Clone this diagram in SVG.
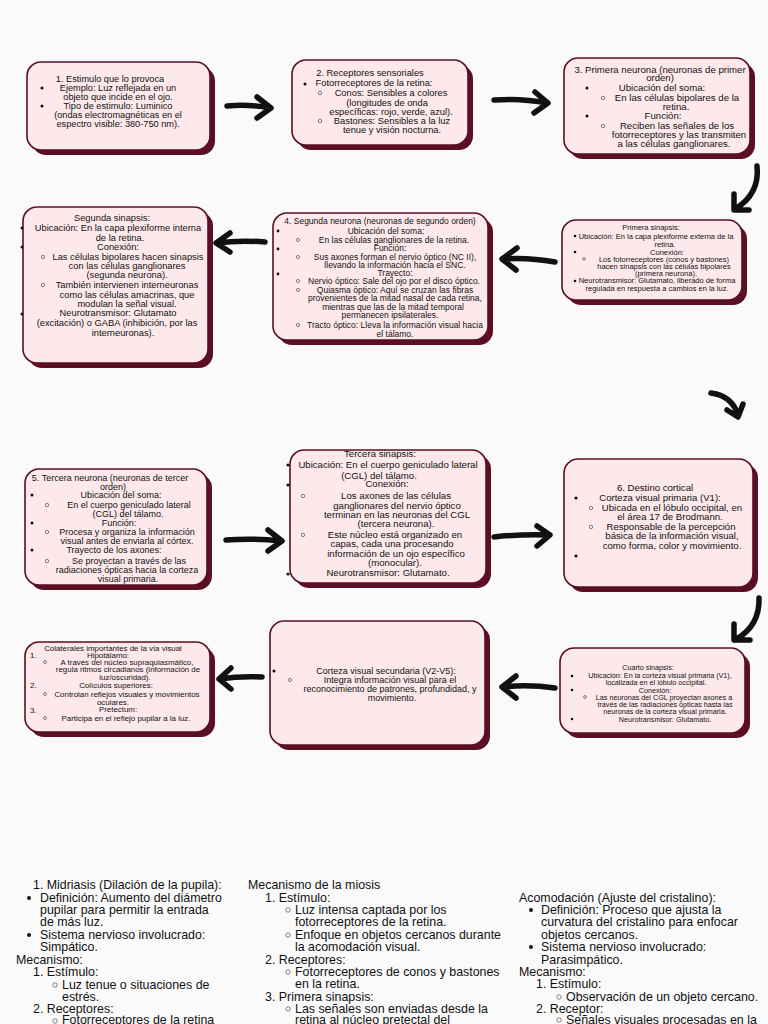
<svg xmlns="http://www.w3.org/2000/svg" width="768" height="1024" viewBox="0 0 768 1024">
<style>
text{font-family:"Liberation Sans",Arial,sans-serif;fill:#111}
.box{fill:#fde9eb;stroke:#5a0f24;stroke-width:1.6}
.sh{fill:#5a0f24}
.c{text-anchor:middle}
.dot{fill:#111}
.ring{fill:none;stroke:#333;stroke-width:0.6}
.arr{fill:none;stroke:#111;stroke-width:5.5;stroke-linecap:round;stroke-linejoin:round}
.f92{font-size:9.2px}.f95{font-size:9.3px}.f91{font-size:9px}.f98{font-size:9.6px}.f86{font-size:8.5px}.f76{font-size:7.5px}.f80{font-size:7.9px}.f90{font-size:9px}.f73{font-size:7.2px}
.b{font-size:12.4px}
</style>
<rect width="768" height="1024" fill="#fafafa"/>

<g id="connectors">
<path class="arr" d="M227,106 Q250,104 270,108 M257,97 L271,108 L257,118"/>
<path class="arr" d="M494,100 Q522,98 547,103 M535,92 L548,103 L534,113"/>
<path class="arr" d="M757,166 Q760,194 735,209 M734,194 L734,210 L749,210"/>
<path class="arr" d="M555,262 Q528,257 502,259 M517,248 L502,259 L516,270"/>
<path class="arr" d="M265,242 Q240,240 216,243 M230,233 L216,243 L230,252"/>
<path class="arr" d="M711,393 Q733,396 738,416 M727,410 L738,417 L743,404"/>
<path class="arr" d="M226,540 Q254,538 281,541 M268,530 L282,541 L268,551"/>
<path class="arr" d="M494,537 Q522,534 549,535 M537,526 L550,535 L537,546"/>
<path class="arr" d="M759,598 Q760,626 735,640 M734,624 L734,640 L750,640"/>
<path class="arr" d="M555,688 Q528,684 502,687 M516,676 L502,687 L516,698"/>
<path class="arr" d="M262,677 Q240,676 219,679 M231,668 L219,679 L231,689"/>
</g>

<g id="n1">
<rect class="sh" x="32" y="67" width="183" height="88" rx="14"/>
<rect class="box" x="27" y="62" width="183" height="88" rx="14"/>
<g class="f92">
<text class="c" x="110" y="82">1. Estimulo que lo provoca</text>
<circle class="dot" cx="42" cy="88" r="1.5"/><text class="c" x="118" y="91">Ejemplo: Luz reflejada en un</text>
<text class="c" x="118" y="100">objeto que incide en el ojo.</text>
<circle class="dot" cx="42" cy="106" r="1.5"/><text class="c" x="118" y="109">Tipo de estimulo: Luminico</text>
<text class="c" x="118" y="118">(ondas electromagnéticas en el</text>
<text class="c" x="118" y="127">espectro visible: 380-750 nm).</text>
</g>
</g>

<g id="n2">
<rect class="sh" x="297" y="65" width="176" height="85" rx="14"/>
<rect class="box" x="292" y="60" width="176" height="85" rx="14"/>
<g class="f95">
<text class="c" x="370" y="76">2. Receptores sensoriales</text>
<circle class="dot" cx="305" cy="84" r="1.5"/><text class="c" x="374" y="86">Fotorreceptores de la retina:</text>
<circle class="ring" cx="320" cy="93" r="1.7"/><text class="c" x="391" y="96">Conos: Sensibles a colores</text>
<text class="c" x="387" y="106">(longitudes de onda</text>
<text class="c" x="391" y="115">específicas: rojo, verde, azul).</text>
<circle class="ring" cx="320" cy="121" r="1.7"/><text class="c" x="392" y="124">Bastones: Sensibles a la luz</text>
<text class="c" x="392" y="133">tenue y visión nocturna.</text>
</g>
</g>

<g id="n3">
<rect class="sh" x="569" y="63" width="186" height="96" rx="14"/>
<rect class="box" x="564" y="58" width="186" height="96" rx="14"/>
<g class="f98">
<text class="c" x="660" y="73">3. Primera neurona (neuronas de primer</text>
<text class="c" x="660" y="81">orden)</text>
<circle class="dot" cx="587" cy="88" r="1.5"/><text class="c" x="662" y="91">Ubicación del soma:</text>
<circle class="ring" cx="603" cy="98" r="1.7"/><text class="c" x="677" y="101">En las células bipolares de la</text>
<text class="c" x="676" y="110">retina.</text>
<circle class="dot" cx="587" cy="116" r="1.5"/><text class="c" x="663" y="119">Función:</text>
<circle class="ring" cx="603" cy="126" r="1.7"/><text class="c" x="677" y="129">Reciben las señales de los</text>
<text class="c" x="679" y="138">fotorreceptores y las transmiten</text>
<text class="c" x="674" y="147">a las células ganglionares.</text>
</g>
</g>

<g id="n4">
<rect class="sh" x="28" y="212" width="185" height="156" rx="14"/>
<rect class="box" x="23" y="207" width="185" height="156" rx="14"/>
<g class="f95">
<text class="c" x="112" y="221">Segunda sinapsis:</text>
<circle class="dot" cx="22" cy="228" r="1.5"/><text class="c" x="118" y="231">Ubicación: En la capa plexiforme interna</text>
<text class="c" x="120" y="241">de la retina.</text>
<circle class="dot" cx="22" cy="247" r="1.5"/><text class="c" x="118" y="250">Conexión:</text>
<circle class="ring" cx="43" cy="257" r="1.7"/><text class="c" x="128" y="260">Las células bipolares hacen sinapsis</text>
<text class="c" x="127" y="269">con las células ganglionares</text>
<text class="c" x="127" y="278">(segunda neurona).</text>
<circle class="ring" cx="43" cy="285" r="1.7"/><text class="c" x="127" y="288">También intervienen interneuronas</text>
<text class="c" x="127" y="298">como las células amacrinas, que</text>
<text class="c" x="127" y="307">modulan la señal visual.</text>
<circle class="dot" cx="22" cy="314" r="1.5"/><text class="c" x="118" y="316">Neurotransmisor: Glutamato</text>
<text class="c" x="117" y="326">(excitación) o GABA (inhibición, por las</text>
<text class="c" x="123" y="336">interneuronas).</text>
</g>
</g>

<g id="n5">
<rect class="sh" x="278" y="218" width="215" height="127" rx="14"/>
<rect class="box" x="273" y="213" width="215" height="127" rx="14"/>
<g class="f86">
<text class="c" x="380" y="224">4. Segunda neurona (neuronas de segundo orden)</text>
<circle class="dot" cx="278" cy="231" r="1.4"/><text class="c" x="386" y="234">Ubicación del soma:</text>
<circle class="ring" cx="298" cy="240" r="1.6"/><text class="c" x="394" y="243">En las células ganglionares de la retina.</text>
<circle class="dot" cx="278" cy="249" r="1.4"/><text class="c" x="390" y="251">Función:</text>
<circle class="ring" cx="298" cy="257" r="1.6"/><text class="c" x="395" y="260">Sus axones forman el nervio óptico (NC II),</text>
<text class="c" x="395" y="268">llevando la información hacia el SNC.</text>
<circle class="dot" cx="278" cy="274" r="1.4"/><text class="c" x="395" y="276">Trayecto:</text>
<circle class="ring" cx="298" cy="281" r="1.6"/><text class="c" x="394" y="284">Nervio óptico: Sale del ojo por el disco óptico.</text>
<circle class="ring" cx="298" cy="290" r="1.6"/><text class="c" x="395" y="293">Quiasma óptico: Aquí se cruzan las fibras</text>
<text class="c" x="395" y="301">provenientes de la mitad nasal de cada retina,</text>
<text class="c" x="393" y="310">mientras que las de la mitad temporal</text>
<text class="c" x="390" y="318">permanecen ipsilaterales.</text>
<circle class="ring" cx="298" cy="325" r="1.6"/><text class="c" x="395" y="328">Tracto óptico: Lleva la información visual hacia</text>
<text class="c" x="395" y="337">el tálamo.</text>
</g>
</g>

<g id="n6">
<rect class="sh" x="567" y="225" width="180" height="80" rx="14"/>
<rect class="box" x="562" y="220" width="180" height="80" rx="14"/>
<g class="f76">
<text class="c" x="651" y="230">Primera sinapsis:</text>
<circle class="dot" cx="575" cy="236" r="1.3"/><text class="c" x="656" y="239">Ubicación: En la capa plexiforme externa de la</text>
<text class="c" x="665" y="247">retina.</text>
<circle class="dot" cx="575" cy="252" r="1.3"/><text class="c" x="667" y="255">Conexión:</text>
<circle class="ring" cx="584" cy="259" r="1.4"/><text class="c" x="664" y="262">Los fotorreceptores (conos y bastones)</text>
<text class="c" x="664" y="269">hacen sinapsis con las células bipolares</text>
<text class="c" x="666" y="276">(primera neurona).</text>
<circle class="dot" cx="575" cy="281" r="1.3"/><text class="c" x="657" y="283">Neurotransmisor: Glutamato, liberado de forma</text>
<text class="c" x="657" y="291">regulada en respuesta a cambios en la luz.</text>
</g>
</g>

<g id="n7">
<rect class="sh" x="30" y="474" width="182" height="116" rx="14"/>
<rect class="box" x="25" y="469" width="182" height="116" rx="14"/>
<g class="f91">
<text class="c" x="110" y="481">5. Tercera neurona (neuronas de tercer</text>
<text class="c" x="113" y="490">orden)</text>
<circle class="dot" cx="32" cy="495" r="1.5"/><text class="c" x="121" y="498">Ubicación del soma:</text>
<circle class="ring" cx="47" cy="505" r="1.7"/><text class="c" x="129" y="508">En el cuerpo geniculado lateral</text>
<text class="c" x="128" y="517">(CGL) del tálamo.</text>
<circle class="dot" cx="32" cy="523" r="1.5"/><text class="c" x="119" y="526">Función:</text>
<circle class="ring" cx="47" cy="532" r="1.7"/><text class="c" x="127" y="535">Procesa y organiza la información</text>
<text class="c" x="127" y="544">visual antes de enviarla al córtex.</text>
<circle class="dot" cx="32" cy="550" r="1.5"/><text class="c" x="114" y="553">Trayecto de los axones:</text>
<circle class="ring" cx="47" cy="561" r="1.7"/><text class="c" x="129" y="564">Se proyectan a través de las</text>
<text class="c" x="127" y="573">radiaciones ópticas hacia la corteza</text>
<text class="c" x="128" y="582">visual primaria.</text>
</g>
</g>

<g id="n8">
<rect class="sh" x="295" y="455" width="196" height="133" rx="14"/>
<rect class="box" x="290" y="450" width="196" height="133" rx="14"/>
<g class="f98">
<text class="c" x="380" y="457">Tercera sinapsis:</text>
<circle class="dot" cx="288" cy="465" r="1.6"/><text class="c" x="388" y="468">Ubicación: En el cuerpo geniculado lateral</text>
<text class="c" x="379" y="479">(CGL) del tálamo.</text>
<circle class="dot" cx="288" cy="485" r="1.6"/><text class="c" x="387" y="487">Conexión:</text>
<circle class="ring" cx="303" cy="496" r="1.7"/><text class="c" x="396" y="499">Los axones de las células</text>
<text class="c" x="397" y="509">ganglionares del nervio óptico</text>
<text class="c" x="397" y="518">terminan en las neuronas del CGL</text>
<text class="c" x="396" y="527">(tercera neurona).</text>
<circle class="ring" cx="303" cy="535" r="1.7"/><text class="c" x="395" y="538">Este núcleo está organizado en</text>
<text class="c" x="392" y="547">capas, cada una procesando</text>
<text class="c" x="396" y="557">información de un ojo específico</text>
<text class="c" x="395" y="566">(monocular).</text>
<circle class="dot" cx="288" cy="574" r="1.6"/><text class="c" x="388" y="576">Neurotransmisor: Glutamato.</text>
</g>
</g>

<g id="n9">
<rect class="sh" x="569" y="464" width="189" height="128" rx="14"/>
<rect class="box" x="564" y="459" width="189" height="128" rx="14"/>
<g class="f98">
<text class="c" x="655" y="491">6. Destino cortical</text>
<circle class="dot" cx="576" cy="498" r="1.6"/><text class="c" x="660" y="501">Corteza visual primaria (V1):</text>
<circle class="ring" cx="591" cy="508" r="1.7"/><text class="c" x="672" y="511">Ubicada en el lóbulo occipital, en</text>
<text class="c" x="670" y="520">el área 17 de Brodmann.</text>
<circle class="ring" cx="591" cy="527" r="1.7"/><text class="c" x="671" y="530">Responsable de la percepción</text>
<text class="c" x="672" y="539">básica de la información visual,</text>
<text class="c" x="672" y="549">como forma, color y movimiento.</text>
<circle class="dot" cx="576" cy="556" r="1.6"/>
</g>
</g>

<g id="n10">
<rect class="sh" x="30" y="647" width="185" height="90" rx="14"/>
<rect class="box" x="25" y="642" width="185" height="90" rx="14"/>
<g class="f80">
<text class="c" x="113" y="651">Colaterales importantes de la vía visual</text>
<text x="30" y="658">1.</text><text class="c" x="108" y="658">Hipotálamo:</text>
<circle class="ring" cx="45" cy="662" r="1.5"/><text class="c" x="127" y="665">A través del núcleo supraquiasmático,</text>
<text class="c" x="128" y="672">regula ritmos circadianos (información de</text>
<text class="c" x="125" y="680">luz/oscuridad).</text>
<text x="30" y="688">2.</text><text class="c" x="116" y="688">Colículos superiores:</text>
<circle class="ring" cx="45" cy="694" r="1.5"/><text class="c" x="127" y="697">Controlan reflejos visuales y movimientos</text>
<text class="c" x="113" y="705">oculares.</text>
<text x="30" y="713">3.</text><text class="c" x="118" y="712">Pretectum:</text>
<circle class="ring" cx="45" cy="718" r="1.5"/><text class="c" x="126" y="721">Participa en el reflejo pupilar a la luz.</text>
</g>
</g>

<g id="n11">
<rect class="sh" x="275" y="626" width="215" height="124" rx="14"/>
<rect class="box" x="270" y="621" width="215" height="124" rx="14"/>
<g class="f90">
<circle class="dot" cx="274" cy="671" r="1.5"/><text class="c" x="386" y="674">Corteza visual secundaria (V2-V5):</text>
<circle class="ring" cx="290" cy="680" r="1.6"/><text class="c" x="390" y="683">Integra información visual para el</text>
<text class="c" x="390" y="692">reconocimiento de patrones, profundidad, y</text>
<text class="c" x="392" y="701">movimiento.</text>
</g>
</g>

<g id="n12">
<rect class="sh" x="565" y="653" width="185" height="85" rx="14"/>
<rect class="box" x="560" y="648" width="185" height="85" rx="14"/>
<g class="f73">
<text class="c" x="648" y="670">Cuarto sinapsis:</text>
<circle class="dot" cx="572" cy="676" r="1.3"/><text class="c" x="660" y="678">Ubicación: En la corteza visual primaria (V1),</text>
<text class="c" x="656" y="685">localizada en el lóbulo occipital.</text>
<circle class="dot" cx="572" cy="690" r="1.3"/><text class="c" x="655" y="693">Conexión:</text>
<circle class="ring" cx="585" cy="697" r="1.4"/><text class="c" x="664" y="700">Las neuronas del CGL proyectan axones a</text>
<text class="c" x="665" y="707">través de las radiaciones ópticas hasta las</text>
<text class="c" x="665" y="714">neuronas de la corteza visual primaria.</text>
<circle class="dot" cx="572" cy="719" r="1.3"/><text class="c" x="665" y="722">Neurotransmisor: Glutamato.</text>
</g>
</g>

<g id="notes" class="b">
<text x="33" y="889">1. Midriasis (Dilación de la pupila):</text>
<circle class="dot" cx="29" cy="898" r="2"/><text x="40" y="902">Definición: Aumento del diámetro</text>
<text x="40" y="914">pupilar para permitir la entrada</text>
<text x="40" y="926">de más luz.</text>
<circle class="dot" cx="29" cy="935" r="2"/><text x="40" y="939">Sistema nervioso involucrado:</text>
<text x="40" y="951">Simpático.</text>
<text x="16" y="964">Mecanismo:</text>
<text x="33" y="976">1. Estímulo:</text>
<circle class="ring" cx="55" cy="985" r="2.2"/><text x="62" y="989">Luz tenue o situaciones de</text>
<text x="62" y="1001">estrés.</text>
<text x="33" y="1013">2. Receptores:</text>
<circle class="ring" cx="55" cy="1021" r="2.2"/><text x="62" y="1024">Fotorreceptores de la retina</text>

<text x="248" y="889">Mecanismo de la miosis</text>
<text x="265" y="902">1. Estímulo:</text>
<circle class="ring" cx="288" cy="910" r="2.2"/><text x="295" y="914">Luz intensa captada por los</text>
<text x="295" y="926">fotorreceptores de la retina.</text>
<circle class="ring" cx="288" cy="935" r="2.2"/><text x="295" y="939">Enfoque en objetos cercanos durante</text>
<text x="295" y="951">la acomodación visual.</text>
<text x="265" y="964">2. Receptores:</text>
<circle class="ring" cx="288" cy="972" r="2.2"/><text x="295" y="976">Fotorreceptores de conos y bastones</text>
<text x="295" y="988">en la retina.</text>
<text x="265" y="1001">3. Primera sinapsis:</text>
<circle class="ring" cx="288" cy="1009" r="2.2"/><text x="295" y="1013">Las señales son enviadas desde la</text>
<text x="295" y="1024">retina al núcleo pretectal del</text>

<text x="519" y="902">Acomodación (Ajuste del cristalino):</text>
<circle class="dot" cx="531" cy="910" r="2"/><text x="541" y="914">Definición: Proceso que ajusta la</text>
<text x="541" y="926">curvatura del cristalino para enfocar</text>
<text x="541" y="939">objetos cercanos.</text>
<circle class="dot" cx="531" cy="947" r="2"/><text x="541" y="951">Sistema nervioso involucrado:</text>
<text x="541" y="964">Parasimpático.</text>
<text x="519" y="976">Mecanismo:</text>
<text x="536" y="988">1. Estímulo:</text>
<circle class="ring" cx="559" cy="997" r="2.2"/><text x="566" y="1001">Observación de un objeto cercano.</text>
<text x="536" y="1013">2. Receptor:</text>
<circle class="ring" cx="559" cy="1020" r="2.2"/><text x="566" y="1024">Señales visuales procesadas en la</text>
</g>
</svg>
